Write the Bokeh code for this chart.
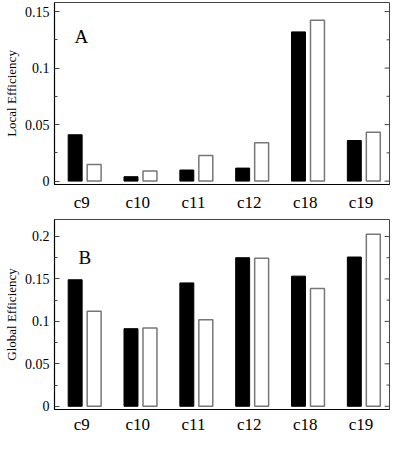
from bokeh.plotting import figure
from bokeh.layouts import column
from bokeh.models import FixedTicker, Label, ColumnDataSource, Range1d
from bokeh.embed import file_html
from bokeh.resources import INLINE

categories = ["c9", "c10", "c11", "c12", "c18", "c19"]
local_black = [0.041, 0.0039, 0.0098, 0.0115, 0.132, 0.0359]
local_white = [0.0146, 0.0089, 0.0227, 0.034, 0.1424, 0.0433]
global_black = [0.149, 0.0914, 0.1453, 0.175, 0.1533, 0.1758]
global_white = [0.112, 0.0921, 0.102, 0.1743, 0.1388, 0.2026]

local_ticks = [0, 0.05, 0.1, 0.15]
local_tick_labels = ["0", "0.05", "0.1", "0.15"]
local_minor = [0.025, 0.075, 0.125]
global_ticks = [0, 0.05, 0.1, 0.15, 0.2]
global_tick_labels = ["0", "0.05", "0.1", "0.15", "0.2"]
global_minor = [0.025, 0.075, 0.125, 0.175]

FONT = "Liberation Serif"
W = 390
X0, X1 = -0.54, 5.46
TICK_GRAY = "#444444"


def make_panel(black, white, ticks, tick_labels, minor, ymin, ymax, ylabel, letter, letter_xy,
               height, border_top, border_bottom, xlabel_standoff):
    idx = list(range(len(categories)))
    p = figure(width=W, height=height, output_backend="svg", toolbar_location=None,
               x_range=Range1d(X0, X1), y_range=Range1d(ymin, ymax),
               min_border_left=46, min_border_right=1,
               min_border_top=border_top, min_border_bottom=border_bottom)
    p.grid.visible = False
    p.outline_line_color = TICK_GRAY
    p.outline_line_width = 1
    p.background_fill_color = "white"
    p.border_fill_color = "white"

    src = ColumnDataSource(dict(xb=[i - 0.17 for i in idx], xw=[i + 0.17 for i in idx],
                                black=black, white=white))
    p.vbar(x="xb", top="black", bottom=0, width=0.25, source=src,
           fill_color="black", line_color="black", line_width=1)
    p.vbar(x="xw", top="white", bottom=0, width=0.25, source=src,
           fill_color="white", line_color="#777777", line_width=1.5)

    # right-side inward ticks (mirroring the left axis ticks)
    span = X1 - X0
    p.segment(x0=[X1] * len(ticks), x1=[X1 - span * 5 / 343] * len(ticks),
              y0=ticks, y1=ticks, line_color=TICK_GRAY, line_width=1)
    p.segment(x0=[X1] * len(minor), x1=[X1 - span * 3 / 343] * len(minor),
              y0=minor, y1=minor, line_color=TICK_GRAY, line_width=1)

    # x axis
    xa = p.xaxis[0]
    xa.axis_label = None
    xa.ticker = FixedTicker(ticks=[i - 0.05 for i in idx])
    xa.major_label_overrides = {i - 0.05: c for i, c in zip(idx, categories)}
    xa.major_tick_line_color = None
    xa.minor_tick_line_color = None
    xa.major_tick_in = 0
    xa.major_tick_out = 0
    xa.axis_line_color = "black"
    xa.axis_line_width = 1.2
    xa.major_label_text_font = FONT
    xa.major_label_text_font_size = "17px"
    xa.major_label_text_color = "black"
    xa.major_label_standoff = xlabel_standoff

    # y axis
    ya = p.yaxis[0]
    ya.ticker = FixedTicker(ticks=ticks, minor_ticks=minor)
    ya.major_label_overrides = {t: s for t, s in zip(ticks, tick_labels)}
    ya.major_tick_in = 5
    ya.major_tick_out = 0
    ya.minor_tick_in = 3
    ya.minor_tick_out = 0
    ya.major_tick_line_color = TICK_GRAY
    ya.minor_tick_line_color = TICK_GRAY
    ya.axis_line_color = "black"
    ya.axis_line_width = 1.2
    ya.major_label_text_font = FONT
    ya.major_label_text_font_size = "14px"
    ya.major_label_text_color = "black"
    ya.major_label_standoff = 5
    ya.axis_label = ylabel
    ya.axis_label_text_font = FONT
    ya.axis_label_text_font_size = "13px"
    ya.axis_label_text_font_style = "normal"
    ya.axis_label_text_color = "black"
    ya.axis_label_standoff = 3

    p.add_layout(Label(x=letter_xy[0], y=letter_xy[1], text=letter,
                       text_font=FONT, text_font_size="19px", text_color="black",
                       text_baseline="alphabetic", text_align="left"))
    return p


pA = make_panel(local_black, local_white, local_ticks, local_tick_labels, local_minor,
                -0.003, 0.158, "Local Efficiency", "A", (-0.18, 0.1278),
                214, 2, 30, 8)
pB = make_panel(global_black, global_white, global_ticks, global_tick_labels, global_minor,
                -0.0038, 0.22, "Global Efficiency", "B", (-0.11, 0.1758),
                222, 5, 27, 5)

layout = column(pA, pB, spacing=0)
open("out.html", "w").write(file_html(layout, INLINE))
